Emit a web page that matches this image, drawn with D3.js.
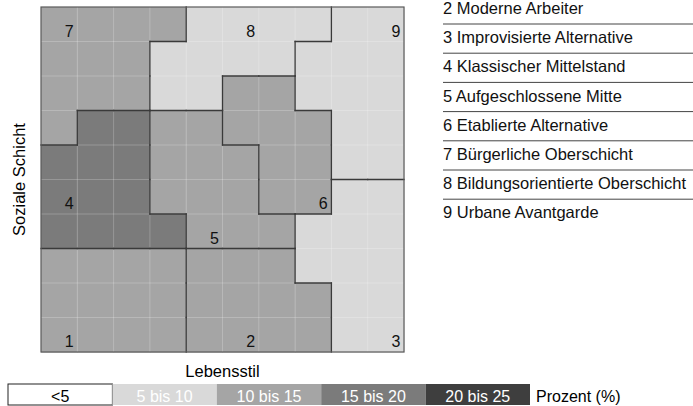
<!DOCTYPE html>
<html>
<head>
<meta charset="utf-8">
<script src="https://cdn.jsdelivr.net/npm/d3@7"></script>
<style>
  body { margin: 0; background: #fff; }
  text { font-family: "Liberation Sans", Arial, sans-serif; }
</style>
</head>
<body>
<svg id="chart" width="693" height="406"></svg>
<script>
// milieu ids and their share of the population (%)
const milieuIds = [1, 2, 3, 4, 5, 6, 7, 8, 9];
const milieuShare = [14, 14, 7, 16, 13, 11, 12, 7, 6];
// where the number of each milieu sits (column, row)
const labelCells = [[0, 9], [5, 9], [9, 9], [0, 5], [4, 6], [7, 5], [0, 0], [5, 0], [9, 0]];

// 10 x 10 map: row 0 = top (highest Schicht), col 0 = left
const layout = [
  "7777888899",
  "7778888999",
  "7778866999",
  "7445566699",
  "4445556699",
  "4445556633",
  "4444555333",
  "1111222333",
  "1111222233",
  "1111222233"
];

const legendNames = [
  "2 Moderne Arbeiter",
  "3 Improvisierte Alternative",
  "4 Klassischer Mittelstand",
  "5 Aufgeschlossene Mitte",
  "6 Etablierte Alternative",
  "7 Bürgerliche Oberschicht",
  "8 Bildungsorientierte Oberschicht",
  "9 Urbane Avantgarde"
];

const classLabels = ["<5", "5 bis 10", "10 bis 15", "15 bis 20", "20 bis 25"];
const classBreaks = [5, 10, 15, 20];
const classColors = ["#ffffff", "#d9d9d9", "#a5a5a5", "#7b7b7b", "#3e3e3e"];

const svg = d3.select("#chart");
const n = layout.length;

const x = d3.scaleLinear().domain([0, n]).range([41, 404]);
const y = d3.scaleLinear().domain([0, n]).range([7, 352]);
const color = d3.scaleThreshold().domain(classBreaks).range(classColors);

const shareOf = id => milieuShare[milieuIds.indexOf(id)];

const cells = [];
layout.forEach((row, r) => {
  row.split("").forEach((ch, c) => cells.push({ r, c, id: +ch }));
});

svg.append("g")
  .selectAll("rect")
  .data(cells)
  .join("rect")
  .attr("x", d => x(d.c))
  .attr("y", d => y(d.r))
  .attr("width", x(1) - x(0) + 0.5)
  .attr("height", y(1) - y(0) + 0.5)
  .attr("fill", d => color(shareOf(d.id)));

// faint grid
const grid = svg.append("g").attr("stroke", "#fff").attr("stroke-opacity", 0.22);
d3.range(1, n).forEach(i => {
  grid.append("line").attr("x1", x(i)).attr("x2", x(i)).attr("y1", y(0)).attr("y2", y(n));
  grid.append("line").attr("y1", y(i)).attr("y2", y(i)).attr("x1", x(0)).attr("x2", x(n));
});

// borders between milieus
const edges = [];
cells.forEach(d => {
  if (d.c < n - 1 && layout[d.r][d.c + 1] != d.id)
    edges.push([d.c + 1, d.r, d.c + 1, d.r + 1]);
  if (d.r < n - 1 && layout[d.r + 1][d.c] != d.id)
    edges.push([d.c, d.r + 1, d.c + 1, d.r + 1]);
});

svg.append("g")
  .selectAll("line")
  .data(edges)
  .join("line")
  .attr("x1", d => x(d[0])).attr("y1", d => y(d[1]))
  .attr("x2", d => x(d[2])).attr("y2", d => y(d[3]))
  .attr("stroke", "#3a3a3a")
  .attr("stroke-width", 1.3)
  .attr("stroke-linecap", "square");

svg.append("rect")
  .attr("x", x(0)).attr("y", y(0))
  .attr("width", x(n) - x(0)).attr("height", y(n) - y(0))
  .attr("fill", "none")
  .attr("stroke", "#5a5a5a")
  .attr("stroke-width", 1.2);

svg.append("g")
  .selectAll("text")
  .data(milieuIds)
  .join("text")
  .attr("x", (d, i) => x(labelCells[i][0] + 0.5) + 10)
  .attr("y", (d, i) => y(labelCells[i][1] + 0.5) + 12.5)
  .attr("text-anchor", "middle")
  .attr("font-size", 16)
  .attr("fill", "#111")
  .text(d => d);

// axis titles
svg.append("text")
  .attr("x", (x(0) + x(n)) / 2)
  .attr("y", 377)
  .attr("text-anchor", "middle")
  .attr("font-size", 16.5)
  .text("Lebensstil");

svg.append("text")
  .attr("transform", `translate(25, ${(y(0) + y(n)) / 2}) rotate(-90)`)
  .attr("text-anchor", "middle")
  .attr("font-size", 16.5)
  .text("Soziale Schicht");

// list of milieus on the right
const list = svg.append("g").attr("transform", "translate(443, 0)");
list.selectAll("text")
  .data(legendNames)
  .join("text")
  .attr("x", 0)
  .attr("y", (d, i) => 14 + i * 29.2)
  .attr("font-size", 16.5)
  .attr("fill", "#111")
  .text(d => d);

list.selectAll("line")
  .data(legendNames.slice(1))
  .join("line")
  .attr("x1", 0).attr("x2", 250)
  .attr("y1", (d, i) => 24 + i * 29.2)
  .attr("y2", (d, i) => 24 + i * 29.2)
  .attr("stroke", "#444")
  .attr("stroke-width", 1);

// colour key at the bottom
const keyW = 104.4;
const key = svg.append("g").attr("transform", "translate(8, 384)");
const keyItems = key.selectAll("g")
  .data(classLabels)
  .join("g")
  .attr("transform", (d, i) => `translate(${i * keyW}, 0)`);

keyItems.append("rect")
  .attr("width", keyW)
  .attr("height", 21)
  .attr("fill", (d, i) => classColors[i])
  .attr("stroke", (d, i) => i == 0 ? "#222" : "none");

keyItems.append("text")
  .attr("x", keyW / 2)
  .attr("y", 17.5)
  .attr("text-anchor", "middle")
  .attr("font-size", 16)
  .attr("fill", (d, i) => i == 0 ? "#000" : "#fff")
  .text(d => d);

key.append("text")
  .attr("x", keyW * 5 + 6)
  .attr("y", 17.5)
  .attr("font-size", 16)
  .text("Prozent (%)");
</script>
</body>
</html>
